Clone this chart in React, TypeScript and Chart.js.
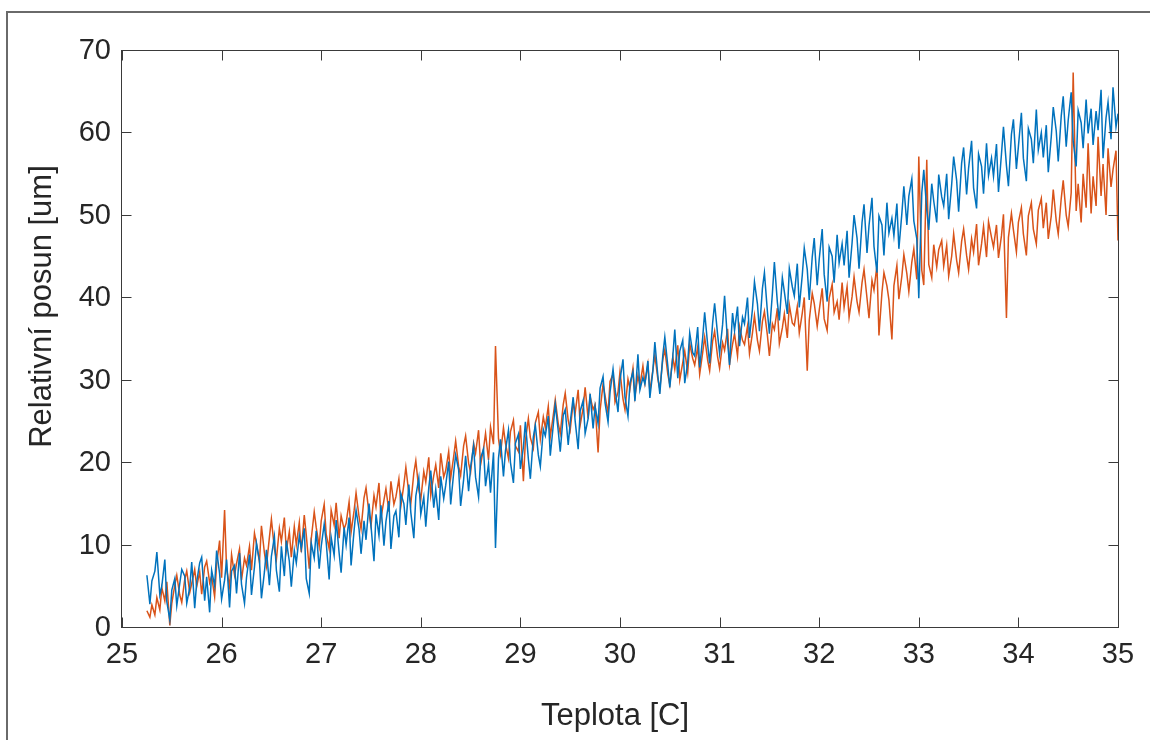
import { useEffect, useRef } from "react";
import { Chart, registerables } from "chart.js";

Chart.register(...registerables);

// Temperature samples [C]
const teplota = [
  25.25, 25.28, 25.30, 25.33, 25.35, 25.38, 25.40, 25.43, 25.45, 25.48, 25.50, 25.53, 25.55, 25.58, 25.60, 25.63, 25.65, 25.68, 25.70, 25.73,
  25.75, 25.78, 25.80, 25.83, 25.85, 25.88, 25.90, 25.93, 25.95, 25.98, 26.00, 26.03, 26.05, 26.08, 26.10, 26.13, 26.15, 26.18, 26.20, 26.23,
  26.25, 26.28, 26.30, 26.33, 26.35, 26.38, 26.40, 26.43, 26.45, 26.48, 26.50, 26.53, 26.55, 26.58, 26.60, 26.63, 26.65, 26.68, 26.70, 26.73,
  26.75, 26.78, 26.80, 26.83, 26.85, 26.88, 26.90, 26.93, 26.95, 26.98, 27.00, 27.03, 27.05, 27.08, 27.10, 27.13, 27.15, 27.18, 27.20, 27.23,
  27.25, 27.28, 27.30, 27.33, 27.35, 27.38, 27.40, 27.43, 27.45, 27.48, 27.50, 27.53, 27.55, 27.58, 27.60, 27.63, 27.65, 27.68, 27.70, 27.73,
  27.75, 27.78, 27.80, 27.83, 27.85, 27.88, 27.90, 27.93, 27.95, 27.98, 28.00, 28.03, 28.05, 28.08, 28.10, 28.13, 28.15, 28.18, 28.20, 28.23,
  28.25, 28.28, 28.30, 28.33, 28.35, 28.38, 28.40, 28.43, 28.45, 28.48, 28.50, 28.53, 28.55, 28.58, 28.60, 28.63, 28.65, 28.68, 28.70, 28.73,
  28.75, 28.78, 28.80, 28.83, 28.85, 28.88, 28.90, 28.93, 28.95, 28.98, 29.00, 29.03, 29.05, 29.08, 29.10, 29.13, 29.15, 29.18, 29.20, 29.23,
  29.25, 29.28, 29.30, 29.33, 29.35, 29.38, 29.40, 29.43, 29.45, 29.48, 29.50, 29.53, 29.55, 29.58, 29.60, 29.63, 29.65, 29.68, 29.70, 29.73,
  29.75, 29.78, 29.80, 29.83, 29.85, 29.88, 29.90, 29.93, 29.95, 29.98, 30.00, 30.03, 30.05, 30.08, 30.10, 30.13, 30.15, 30.18, 30.20, 30.23,
  30.25, 30.28, 30.30, 30.33, 30.35, 30.38, 30.40, 30.43, 30.45, 30.48, 30.50, 30.53, 30.55, 30.58, 30.60, 30.63, 30.65, 30.68, 30.70, 30.73,
  30.75, 30.78, 30.80, 30.83, 30.85, 30.88, 30.90, 30.93, 30.95, 30.98, 31.00, 31.03, 31.05, 31.08, 31.10, 31.13, 31.15, 31.18, 31.20, 31.23,
  31.25, 31.28, 31.30, 31.33, 31.35, 31.38, 31.40, 31.43, 31.45, 31.48, 31.50, 31.53, 31.55, 31.58, 31.60, 31.63, 31.65, 31.68, 31.70, 31.73,
  31.75, 31.78, 31.80, 31.83, 31.85, 31.88, 31.90, 31.93, 31.95, 31.98, 32.00, 32.03, 32.05, 32.08, 32.10, 32.13, 32.15, 32.18, 32.20, 32.23,
  32.25, 32.28, 32.30, 32.33, 32.35, 32.38, 32.40, 32.43, 32.45, 32.48, 32.50, 32.53, 32.55, 32.58, 32.60, 32.63, 32.65, 32.68, 32.70, 32.73,
  32.75, 32.78, 32.80, 32.83, 32.85, 32.88, 32.90, 32.93, 32.95, 32.98, 33.00, 33.03, 33.05, 33.08, 33.10, 33.13, 33.15, 33.18, 33.20, 33.23,
  33.25, 33.28, 33.30, 33.33, 33.35, 33.38, 33.40, 33.43, 33.45, 33.48, 33.50, 33.53, 33.55, 33.58, 33.60, 33.63, 33.65, 33.68, 33.70, 33.73,
  33.75, 33.78, 33.80, 33.83, 33.85, 33.88, 33.90, 33.93, 33.95, 33.98, 34.00, 34.03, 34.05, 34.08, 34.10, 34.13, 34.15, 34.18, 34.20, 34.23,
  34.25, 34.28, 34.30, 34.33, 34.35, 34.38, 34.40, 34.43, 34.45, 34.48, 34.50, 34.53, 34.55, 34.58, 34.60, 34.63, 34.65, 34.68, 34.70, 34.73,
  34.75, 34.78, 34.80, 34.83, 34.85, 34.88, 34.90, 34.93, 34.95, 34.98, 35.00,
];

// Relative shift, series 1 (blue) [um]
const posun1 = [
  6.4, 2.9, 5.7, 6.9, 9.2, 4.0, 5.1, 8.3, 3.2, 1.0, 4.6, 6.0, 2.7, 5.4, 7.1, 6.3, 3.0, 4.9, 8.0, 2.4,
  5.6, 7.9, 8.6, 3.3, 6.2, 1.9, 7.0, 5.1, 9.4, 6.6, 3.5, 5.8, 8.3, 2.5, 6.9, 7.6, 4.2, 9.1, 5.3, 3.0,
  6.1, 8.9, 4.0, 7.4, 10.3, 8.2, 3.6, 6.8, 9.5, 5.2, 8.7, 11.1, 7.0, 4.4, 9.9, 6.3, 10.6, 8.1, 5.0, 9.4,
  7.9, 11.2, 9.6, 12.1, 6.0, 4.2, 10.3, 8.5, 11.8, 7.2, 9.9, 12.6, 10.4, 5.9, 11.0, 8.8, 13.1, 9.1, 6.7, 12.2,
  10.1, 13.4, 7.6, 11.8, 14.3, 12.0, 9.0, 13.0, 10.7, 15.1, 12.4, 8.1, 13.8, 11.2, 14.9, 10.0, 12.9, 15.4, 9.6, 13.6,
  14.2, 11.0, 16.3, 15.1, 12.5, 17.4, 14.0, 10.9, 16.0, 18.2, 13.8, 15.9, 12.3, 17.0, 19.1, 14.6, 16.8, 13.1, 18.4, 15.7,
  17.3, 20.2, 15.0, 18.8, 21.0, 19.2, 14.8, 18.0, 20.9, 16.6, 19.5, 22.1, 18.3, 15.9, 20.6, 21.7, 17.2, 19.9, 16.4, 21.3,
  9.7, 20.6, 22.9, 18.4, 21.5, 24.0, 20.1, 17.6, 22.4, 23.5, 19.3, 21.9, 25.0, 20.5, 18.1, 23.2, 24.6, 21.0, 19.6, 24.1,
  23.3, 25.7, 20.9, 24.6, 27.1, 23.9, 21.4, 25.8, 26.5, 22.2, 24.9, 28.0, 25.1, 21.7, 26.3, 27.6, 23.6, 25.4, 28.4, 24.2,
  26.9, 24.8, 29.1, 30.5, 27.3, 25.0, 28.6, 31.4, 29.0, 26.2, 30.1, 32.6, 28.0, 25.7, 29.7, 31.1, 27.5, 33.2, 28.9, 30.4,
  29.6, 32.4, 27.9, 31.2, 34.7, 30.6, 28.4, 33.1, 35.3, 31.8, 29.2, 32.9, 36.2, 30.3, 33.6, 34.9, 29.7, 32.2, 35.8, 33.4,
  33.0, 36.5, 31.6, 35.2, 38.3, 34.4, 32.1, 37.0, 39.4, 35.6, 33.3, 36.8, 40.3, 34.7, 31.9, 38.2, 36.1, 39.0, 34.2, 37.7,
  36.9, 40.1, 35.2, 38.7, 42.0, 39.3, 36.0, 41.2, 43.1, 38.4, 35.7, 40.6, 44.4, 39.5, 37.3, 42.5, 40.8, 38.1, 43.6, 41.4,
  40.3, 44.2, 38.9, 42.8, 46.1, 43.5, 39.8, 45.0, 47.3, 41.6, 44.7, 48.4, 42.9, 39.6, 46.2, 45.1, 41.9, 47.7, 44.3, 46.6,
  44.0, 48.2, 42.5, 46.7, 50.1, 47.3, 43.6, 49.2, 51.4, 45.5, 48.8, 52.2, 46.3, 43.1, 50.0, 48.9, 45.2, 51.6, 47.9, 49.7,
  47.6, 51.5, 46.0, 50.3, 53.6, 48.9, 52.4, 54.5, 49.4, 47.2, 40.0, 52.8, 55.6, 50.7, 48.3, 53.9, 51.8, 49.2, 55.0, 52.3,
  51.2, 55.1, 49.6, 53.8, 57.2, 54.3, 50.5, 56.4, 58.3, 52.6, 55.8, 59.1, 53.4, 50.9, 57.5, 56.0, 52.7, 58.8, 54.9, 57.0,
  54.8, 58.7, 52.9, 57.5, 60.8, 56.1, 53.6, 59.9, 61.7, 55.7, 58.4, 62.5, 57.0, 54.2, 60.6, 59.3, 56.4, 62.9, 58.0, 60.1,
  57.1, 61.0, 55.3, 59.6, 63.2, 60.3, 56.6, 62.1, 64.5, 58.4, 61.6, 65.0, 59.1, 56.0, 62.8, 61.3, 58.2, 64.1, 60.0, 63.0,
  58.6, 62.7, 60.4, 65.3, 57.0, 61.9, 63.8, 59.3, 65.6, 60.8, 62.4,
];

// Relative shift, series 2 (orange) [um]
const posun2 = [
  2.1, 1.3, 2.8, 1.6, 3.7, 2.2, 4.9, 3.3, 5.6, 0.3, 3.0, 5.2, 6.4, 4.0, 3.1, 5.9, 6.9, 4.3, 5.4, 7.1,
  5.0, 6.8, 4.1, 7.4, 8.1, 5.5, 6.3, 3.8, 7.7, 10.6, 6.1, 14.3, 7.2, 5.0, 8.9, 6.4, 7.8, 9.6, 5.8, 8.5,
  7.6, 9.9, 7.0, 11.5, 10.2, 8.0, 12.4, 9.1, 7.5, 11.0, 13.2, 9.6, 8.3, 12.1, 10.5, 13.4, 9.4, 11.7, 8.6, 12.3,
  10.1, 12.8, 9.2, 13.7, 11.3, 7.2, 10.8, 14.1, 12.2, 9.9, 13.0, 15.0, 11.4, 9.6, 14.3, 12.5, 15.2, 10.9, 13.6, 12.0,
  12.7, 15.3, 11.6, 14.2, 16.4, 13.5, 12.0, 15.8, 17.0, 13.9, 12.4, 16.1, 14.7, 17.6, 13.3, 15.5, 16.9, 14.1, 17.8, 15.0,
  15.9, 18.1, 14.8, 17.4, 19.5, 16.3, 15.1, 18.8, 20.3, 16.8, 15.6, 19.0, 17.7, 20.7, 16.1, 18.5, 19.8, 17.0, 21.2, 18.3,
  19.1, 21.4, 18.2, 20.8, 22.7, 19.6, 18.5, 22.1, 23.3, 20.0, 18.9, 22.4, 21.2, 24.0, 19.8, 21.8, 23.6, 20.4, 24.4, 22.3,
  34.2, 23.0, 21.1, 24.3, 22.4, 20.6, 23.8, 25.2, 22.1, 21.4, 24.6, 17.8, 22.7, 25.4, 23.1, 21.8, 24.9, 26.2, 22.9, 25.6,
  24.3, 26.9, 23.2, 25.8, 27.7, 24.8, 23.6, 27.1, 28.5, 25.2, 24.0, 27.4, 26.1, 28.9, 24.6, 26.7, 29.2, 25.4, 28.1, 26.5,
  27.1, 21.3, 26.4, 29.6, 28.2, 26.0, 29.9, 30.8, 27.4, 28.6, 31.1, 27.8, 26.5, 30.2, 29.0, 31.5, 28.1, 30.6, 29.4, 31.8,
  29.7, 32.0, 28.7, 31.3, 33.1, 30.2, 29.0, 32.6, 33.8, 30.8, 29.5, 32.9, 31.4, 34.3, 30.1, 32.2, 33.6, 31.0, 34.5, 32.7,
  31.9, 34.1, 30.8, 33.4, 35.3, 32.5, 31.2, 34.8, 36.0, 32.9, 31.5, 34.6, 33.7, 36.3, 32.0, 34.4, 35.7, 33.0, 36.6, 34.9,
  34.4, 36.6, 33.3, 35.8, 37.9, 34.9, 33.6, 37.2, 38.4, 35.5, 33.0, 36.9, 36.2, 38.8, 34.5, 36.4, 38.1, 35.2, 39.2, 37.0,
  36.7, 39.0, 35.8, 38.2, 40.1, 31.2, 37.3, 40.6, 39.4, 36.6, 38.5, 41.2, 37.5, 36.1, 40.0, 41.7, 38.3, 39.6, 37.4, 41.9,
  38.9, 41.4, 37.7, 40.2, 42.6, 39.6, 38.3, 41.9, 43.5, 40.0, 37.6, 42.2, 41.0, 44.0, 35.5, 40.7, 43.1, 41.5, 39.8, 35.0,
  41.5, 44.0, 39.9, 42.7, 45.3, 43.0, 40.8, 44.4, 46.0, 42.3, 57.2, 43.4, 41.6, 56.8, 44.1, 42.5, 46.5, 43.8, 45.9, 47.0,
  43.9, 46.4, 42.7, 45.1, 47.8, 44.6, 43.1, 46.9, 48.4, 45.2, 43.5, 47.2, 45.6, 49.0, 44.0, 46.6, 48.7, 45.0, 49.3, 47.4,
  46.2, 48.9, 44.9, 47.6, 50.2, 37.6, 47.4, 50.3, 48.3, 45.6, 49.2, 51.0, 47.8, 45.2, 50.0, 51.6, 48.4, 46.6, 50.7, 52.1,
  48.5, 51.6, 47.2, 50.0, 53.2, 49.4, 47.8, 52.1, 54.3, 50.1, 48.7, 52.8, 67.4, 50.6, 53.9, 49.2, 55.1, 51.0, 58.8, 50.3,
  54.8, 51.2, 59.6, 52.4, 56.3, 50.1, 58.2, 53.5, 55.6, 57.9, 47.0,
];

const xTicks = [25, 26, 27, 28, 29, 30, 31, 32, 33, 34, 35];
const yTicks = [0, 10, 20, 30, 40, 50, 60, 70];
const xLabel = "Teplota [C]";
const yLabel = "Relativní posun [um]";

const FONT = "'Liberation Sans', Arial, Helvetica, sans-serif";
const TEXT = "#262626";

const matlabAxes = {
  id: "matlabAxes",
  beforeDraw(chart: any) {
    const ctx = chart.ctx;
    ctx.save();
    ctx.fillStyle = "#ffffff";
    ctx.fillRect(0, 0, chart.width, chart.height);
    ctx.strokeStyle = "#6a6a6a";
    ctx.lineWidth = 2;
    ctx.beginPath();
    ctx.moveTo(7, chart.height + 5);
    ctx.lineTo(7, 12);
    ctx.lineTo(chart.width + 5, 12);
    ctx.stroke();
    ctx.restore();
  },
  afterDatasetsDraw(chart: any) {
    const ctx = chart.ctx;
    const { left, right, top, bottom } = chart.chartArea;
    const xs = chart.scales.x;
    const ys = chart.scales.y;
    const L = Math.round(left) - 0.5;
    const R = Math.round(right) + 0.5;
    const T = Math.round(top) - 0.5;
    const B = Math.round(bottom) - 0.5;
    ctx.save();
    ctx.strokeStyle = "#3a3a3a";
    ctx.lineWidth = 1;
    ctx.strokeRect(L, T, R - L, B - T);
    ctx.beginPath();
    const tl = 10;
    xTicks.forEach((v) => {
      const px = Math.round(xs.getPixelForValue(v)) + 0.5;
      ctx.moveTo(px, B);
      ctx.lineTo(px, B - tl);
      ctx.moveTo(px, T);
      ctx.lineTo(px, T + tl);
    });
    yTicks.forEach((v) => {
      const py = Math.round(ys.getPixelForValue(v)) - 0.5;
      ctx.moveTo(L, py);
      ctx.lineTo(L + tl, py);
      ctx.moveTo(R, py);
      ctx.lineTo(R - tl, py);
    });
    ctx.stroke();

    // axis titles
    ctx.fillStyle = TEXT;
    ctx.font = `31px ${FONT}`;
    ctx.textAlign = "center";
    ctx.textBaseline = "middle";
    ctx.fillText(xLabel, (left + right) / 2 - 5, 716);
    ctx.translate(42, (top + bottom) / 2 - 33);
    ctx.rotate(-Math.PI / 2);
    ctx.fillText(yLabel, 0, 0);
    ctx.restore();
  },
};

export default function App() {
  const ref = useRef<HTMLCanvasElement | null>(null);

  useEffect(() => {
    if (!ref.current) return;
    const chart = new Chart(ref.current, {
      type: "line",
      data: {
        datasets: [
          {
            label: "posun 1",
            data: teplota.map((t, i) => ({ x: t, y: posun1[i] })),
            borderColor: "#0072BD",
            borderWidth: 1.5,
            pointRadius: 0,
            tension: 0,
            fill: false,
          },
          {
            label: "posun 2",
            data: teplota.map((t, i) => ({ x: t, y: posun2[i] })),
            borderColor: "#D95319",
            borderWidth: 1.5,
            pointRadius: 0,
            tension: 0,
            fill: false,
          },
        ],
      },
      options: {
        responsive: false,
        animation: false,
        layout: { padding: { left: 0, top: 51, right: 32, bottom: 0 } },
        plugins: { legend: { display: false }, tooltip: { enabled: false } },
        scales: {
          x: {
            type: "linear",
            min: 25,
            max: 35,
            afterBuildTicks: (s: any) => {
              s.ticks = xTicks.map((v) => ({ value: v }));
            },
            afterFit: (s: any) => {
              s.height = 112;
            },
            grid: { display: false, drawTicks: false },
            border: { display: false },
            ticks: {
              color: TEXT,
              font: { family: FONT, size: 29 },
              padding: 10,
              maxRotation: 0,
              autoSkip: false,
            },
            title: { display: false },
          },
          y: {
            type: "linear",
            min: 0,
            max: 70,
            afterBuildTicks: (s: any) => {
              s.ticks = yTicks.map((v) => ({ value: v }));
            },
            afterFit: (s: any) => {
              s.width = 122;
            },
            grid: { display: false, drawTicks: false },
            border: { display: false },
            ticks: {
              color: TEXT,
              font: { family: FONT, size: 29 },
              padding: 11,
              autoSkip: false,
            },
            title: { display: false },
          },
        },
      },
      plugins: [matlabAxes],
    });
    return () => chart.destroy();
  }, []);

  return (
    <div style={{ position: "absolute", left: 0, top: 0, width: 1150, height: 740, background: "#fff" }}>
      <canvas ref={ref} width={1150} height={740} style={{ display: "block" }} />
    </div>
  );
}
